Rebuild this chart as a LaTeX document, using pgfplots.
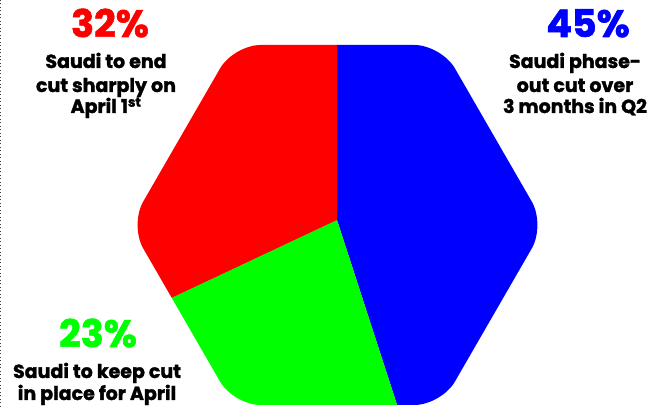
\documentclass[border=0pt]{standalone}
\usepackage{fontspec}
\setmainfont{Poppins}[BoldFeatures={FakeBold=1.6}]
\usepackage{pgfplots}
\pgfplotsset{compat=1.18}
\definecolor{pieblue}{RGB}{0,0,255}
\definecolor{piered}{RGB}{255,0,0}
\definecolor{piegreen}{RGB}{0,255,0}
\begin{document}
\begin{tikzpicture}
\begin{axis}[name=ax, scale only axis, width=662pt, height=407pt,
  xmin=0, xmax=662, ymin=0, ymax=407, hide axis, clip=false]
% left dotted rule
\draw[black!75, line width=0.7pt, dash pattern=on 1pt off 2.5pt] (axis cs:0.8,0) -- (axis cs:0.8,407);
% labels
\tikzset{pct/.style={font=\bfseries\fontsize{38}{38}\selectfont, anchor=base, inner sep=0pt},
         txt/.style={font=\bfseries\fontsize{19}{22}\selectfont, anchor=base, inner sep=0pt}}
\node[pct, text=piered] at (axis cs:110,370) {32\%};
\node[txt] at (axis cs:106,339) {Saudi to end};
\node[txt] at (axis cs:106,315) {cut sharply on};
\node[txt] at (axis cs:106,294) {April 1\textsuperscript{st}};
\node[pct, text=pieblue] at (axis cs:588,370) {45\%};
\node[txt] at (axis cs:575,339) {Saudi phase-};
\node[txt] at (axis cs:575,315) {out cut over};
\node[txt] at (axis cs:575,294) {3 months in Q2};
\node[pct, text=piegreen] at (axis cs:98,60) {23\%};
\node[txt] at (axis cs:97,29) {Saudi to keep cut};
\node[txt] at (axis cs:97,7) {in place for April};
% rounded hexagon outline of the pie
\clip[rounded corners=27pt] (axis cs:337.5,362) -- (axis cs:441.4,362) -- (axis cs:545.3,182)
  -- (axis cs:441.4,2) -- (axis cs:233.6,2) -- (axis cs:129.7,182) -- (axis cs:233.6,362) -- cycle;
% slices: 45% (blue, from 12 o'clock clockwise), 23% (green), 32% (red)
\addplot[fill=pieblue, draw=none] coordinates {(337,187) (337,587) (737,587) (737,-213) (460.6,-193.4)};
\addplot[fill=piegreen, draw=none] coordinates {(337,187) (460.6,-193.4) (-63,-213) (-24.9,16.7)};
\addplot[fill=piered, draw=none] coordinates {(337,187) (-24.9,16.7) (-63,587) (337,587)};
\end{axis}
\pgfresetboundingbox
\path (ax.south west) rectangle (ax.north east);
\end{tikzpicture}
\end{document}
